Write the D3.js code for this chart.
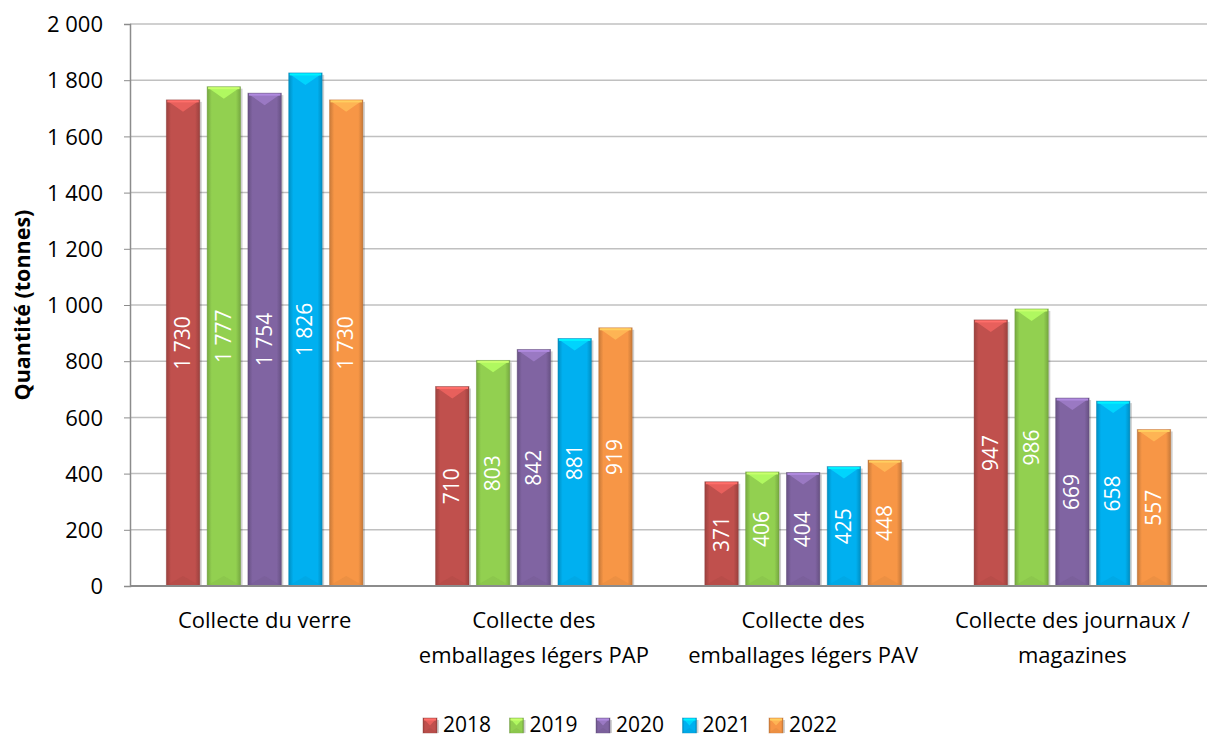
<!DOCTYPE html>
<html>
<head>
<meta charset="utf-8">
<script src="https://cdn.jsdelivr.net/npm/d3@7"></script>
<style>
  body { margin: 0; background: #fff; }
  svg { display: block; font-family: "Open Sans", "Noto Sans", sans-serif; }
  .tick text { font-size: 22px; fill: #000; font-family: "Open Sans", sans-serif; }
</style>
</head>
<body>
<svg id="chart" width="1209" height="737"></svg>
<script>
var categories = [
  ['Collecte du verre'],
  ['Collecte des', 'emballages légers PAP'],
  ['Collecte des', 'emballages légers PAV'],
  ['Collecte des journaux /', 'magazines']
]
var years = ['2018', '2019', '2020', '2021', '2022']
var values2018 = [1730, 710, 371, 947]
var values2019 = [1777, 803, 406, 986]
var values2020 = [1754, 842, 404, 669]
var values2021 = [1826, 881, 425, 658]
var values2022 = [1730, 919, 448, 557]
var yTicks = [0, 200, 400, 600, 800, 1000, 1200, 1400, 1600, 1800, 2000]
var colors = ['#c0504d', '#92d050', '#8064a2', '#00b0f0', '#f79646']

var series = [values2018, values2019, values2020, values2021, values2022]

var plotLeft = 130, plotRight = 1207, plotTop = 24, plotBottom = 586

var svg = d3.select('#chart')
var defs = svg.append('defs')

var fmt = function(v) {
  var s = String(v)
  return s.length > 3 ? s.slice(0, s.length - 3) + '\u00a0' + s.slice(-3) : s
}

var y = d3.scaleLinear().domain([0, 2000]).range([plotBottom, plotTop])
var x0 = d3.scaleBand().domain(d3.range(categories.length)).range([plotLeft, plotRight]).paddingInner(0)
var x1 = d3.scaleBand().domain(years).range([0, x0.bandwidth()]).paddingInner(0.18).paddingOuter(0.89)

// horizontal shading for each colour
colors.forEach(function(c, i) {
  var g = defs.append('linearGradient').attr('id', 'side' + i)
    .attr('x1', 0).attr('x2', 1).attr('y1', 0).attr('y2', 0)
  var dark = d3.color(c).darker(0.6)
  g.append('stop').attr('offset', '0%').attr('stop-color', dark)
  g.append('stop').attr('offset', '14%').attr('stop-color', c)
  g.append('stop').attr('offset', '86%').attr('stop-color', c)
  g.append('stop').attr('offset', '100%').attr('stop-color', dark)
})

// gridlines
svg.append('g')
  .selectAll('line')
  .data(yTicks.slice(1))
  .join('line')
  .attr('x1', plotLeft).attr('x2', plotRight)
  .attr('y1', (d) => y(d)).attr('y2', (d) => y(d))
  .attr('stroke', '#c0c0c0').attr('stroke-width', 1.5)

// y axis
var yAxis = svg.append('g')
  .attr('transform', 'translate(' + plotLeft + ',0)')
  .call(d3.axisLeft(y).tickValues(yTicks).tickFormat(fmt).tickSize(6).tickPadding(21))
yAxis.select('.domain').attr('stroke', '#8c8c8c').attr('stroke-width', 1.5)
yAxis.selectAll('.tick line').attr('stroke', '#8c8c8c')
yAxis.selectAll('.tick text').attr('dy', '0.35em')

function drawBevelBar(g, bx, by, bw, bh, ci) {
  var c = colors[ci]
  var tri = Math.min(12, bh / 2)
  g.append('rect')
    .attr('x', bx + 2).attr('y', by + 2).attr('width', bw).attr('height', bh - 2)
    .attr('fill', '#000').attr('opacity', 0.18)
  g.append('rect')
    .attr('x', bx).attr('y', by).attr('width', bw).attr('height', bh)
    .attr('fill', 'url(#side' + ci + ')')
    .attr('stroke', d3.color(c).darker(0.8)).attr('stroke-opacity', 0.5).attr('stroke-width', 0.8)
  g.append('polygon')
    .attr('points', [[bx + 1, by + 1], [bx + bw - 1, by + 1], [bx + bw / 2, by + tri]].join(' '))
    .attr('fill', d3.color(c).brighter(0.6)).attr('opacity', 0.85)
  g.append('rect')
    .attr('x', bx + 1).attr('y', by + 0.5).attr('width', bw - 2).attr('height', 2)
    .attr('fill', d3.color(c).brighter(0.9))
  g.append('polygon')
    .attr('points', [[bx + 1, by + bh - 1], [bx + bw - 1, by + bh - 1], [bx + bw / 2, by + bh - Math.min(10, bh / 3)]].join(' '))
    .attr('fill', d3.color(c).darker(0.25)).attr('opacity', 0.5)
}

// bars
var barsG = svg.append('g')
categories.forEach(function(cat, ci) {
  years.forEach(function(yr, si) {
    var v = series[si][ci]
    var bx = x0(ci) + x1(yr)
    var by = y(v)
    drawBevelBar(barsG, bx, by, x1.bandwidth(), y(0) - by, si)
    var cx = bx + x1.bandwidth() / 2
    var cy = (by + y(0)) / 2
    barsG.append('text')
      .attr('transform', 'translate(' + (cx + 7) + ',' + cy + ') rotate(-90)')
      .attr('text-anchor', 'middle')
      .attr('fill', '#fff')
      .style('font-size', '21px')
      .text(fmt(v))
  })
})

// x axis base line
svg.append('line')
  .attr('x1', plotLeft).attr('x2', plotRight)
  .attr('y1', y(0)).attr('y2', y(0))
  .attr('stroke', '#8c8c8c').attr('stroke-width', 2)

// category labels
var catG = svg.append('g')
categories.forEach(function(lines, ci) {
  var t = catG.append('text')
    .attr('x', x0(ci) + x0.bandwidth() / 2)
    .attr('y', 628)
    .attr('text-anchor', 'middle')
    .style('font-size', '22px')
  lines.forEach(function(l, li) {
    t.append('tspan')
      .attr('x', x0(ci) + x0.bandwidth() / 2)
      .attr('dy', li === 0 ? 0 : 35)
      .text(l)
  })
})

// y title
svg.append('text')
  .attr('transform', 'translate(30,' + ((plotTop + plotBottom) / 2) + ') rotate(-90)')
  .attr('text-anchor', 'middle')
  .style('font-size', '21.5px')
  .style('font-weight', 'bold')
  .text('Quantité (tonnes)')

// legend
var legend = svg.append('g')
var legendX = d3.scalePoint().domain(years).range([423, 769])
years.forEach(function(yr, i) {
  var lx = legendX(yr)
  drawBevelBar(legend, lx, 718, 14, 15, i)
  legend.append('text')
    .attr('x', lx + 20).attr('y', 732)
    .style('font-size', '21px')
    .text(yr)
})
</script>
</body>
</html>
